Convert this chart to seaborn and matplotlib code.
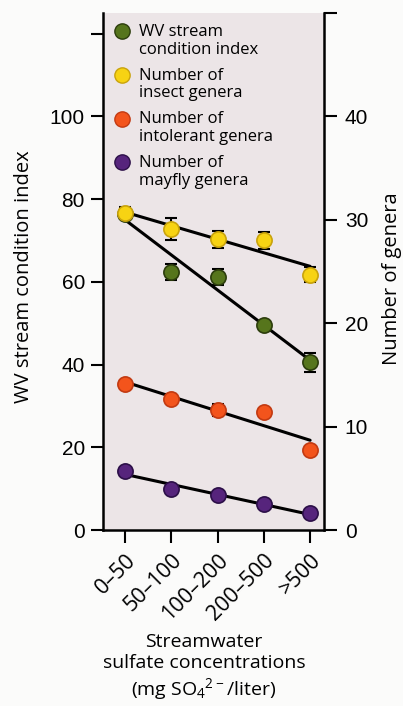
import numpy as np
import pandas as pd
import matplotlib
matplotlib.use("Agg")
import matplotlib.pyplot as plt
import seaborn as sns
from matplotlib.lines import Line2D
from matplotlib.legend_handler import HandlerLine2D

sulfate = ["0–50", "50–100", "100–200", "200–500", ">500"]
wvsci = [76.5, 62.4, 61.2, 49.5, 40.5]
wvsci_err = [1.0, 2.0, 2.0, 0.8, 2.3]
insect = [30.7, 29.1, 28.1, 28.0, 24.7]
insect_err = [0.5, 1.1, 0.8, 0.8, 0.75]
intolerant = [14.1, 12.7, 11.6, 11.4, 7.7]
intolerant_err = [0.3, 0.5, 0.6, 0.3, 0.3]
mayfly = [5.7, 4.0, 3.4, 2.5, 1.6]
mayfly_err = [0.3, 0.3, 0.3, 0.3, 0.3]

sns.set_style("ticks")
plt.rcParams['font.family'] = ['Open Sans', 'DejaVu Sans']
plt.rcParams['mathtext.fontset'] = 'custom'
plt.rcParams['mathtext.rm'] = 'Open Sans'
plt.rcParams['mathtext.default'] = 'regular'
for k in ['text.color', 'axes.labelcolor', 'xtick.color', 'ytick.color', 'axes.edgecolor']:
    plt.rcParams[k] = 'black'

pos = np.arange(len(sulfate))
df = pd.DataFrame({"x": pos, "wvsci": wvsci, "insect": insect,
                   "intolerant": intolerant, "mayfly": mayfly})

colors = {"wvsci": ("#56751c", "#2c3d0c"),
          "insect": ("#f7d313", "#c9a30c"),
          "intolerant": ("#f3541c", "#c23a12"),
          "mayfly": ("#56247c", "#2c0f48")}
errs = {"wvsci": wvsci_err, "insect": insect_err,
        "intolerant": intolerant_err, "mayfly": mayfly_err}

fig = plt.figure(figsize=(4.03, 7.06), dpi=100)
fig.patch.set_facecolor("#fbfbfa")
ax = fig.add_axes([103/403, 176/706, 221/403, 517/706])
ax.set_facecolor("#ece5e7")
ax2 = ax.twinx()
ax2.patch.set_visible(False)

def draw(axis, col):
    fc, ec = colors[col]
    axis.errorbar(df["x"], df[col], yerr=errs[col], fmt="none", ecolor="black",
                  elinewidth=1.5, capsize=4.5, capthick=1.5, zorder=2)
    sns.regplot(data=df, x="x", y=col, ax=axis, scatter=False, ci=None, truncate=True,
                line_kws={"color": "black", "lw": 2.2, "zorder": 3})
    sns.scatterplot(data=df, x="x", y=col, ax=axis, s=120, color=fc,
                    edgecolor=ec, linewidth=1.2, zorder=4)

draw(ax, "wvsci")
for c in ["insect", "intolerant", "mayfly"]:
    draw(ax2, c)

ax.set_xlim(-0.476, 4.30)
ax.set_ylim(0, 125)
ax2.set_ylim(0, 50)
ax.set_xticks(pos)
ax.set_xticklabels(sulfate, rotation=45, ha="right", va="top",
                   rotation_mode="anchor", fontsize=15.5)
ax.set_yticks([0, 20, 40, 60, 80, 100, 120])
ax.set_yticklabels(["0", "20", "40", "60", "80", "100", ""],
                   fontsize=15, family="Liberation Sans")
ax2.set_yticks([0, 10, 20, 30, 40, 50])
ax2.set_yticklabels(["0", "10", "20", "30", "40", ""],
                    fontsize=15, family="Liberation Sans")

for a in (ax, ax2):
    a.spines["top"].set_visible(False)
    a.tick_params(direction="out", length=9, width=1.5, colors="black")
    a.set_xlabel("")
    a.set_ylabel("")
ax.spines["right"].set_visible(False)
ax2.spines["left"].set_visible(False)
ax2.spines["bottom"].set_visible(False)
ax.spines["left"].set_linewidth(1.8)
ax.spines["bottom"].set_linewidth(1.8)
ax2.spines["right"].set_linewidth(1.8)
ax.tick_params(axis="y", pad=4)
ax.tick_params(axis="x", pad=5)
ax2.tick_params(axis="y", pad=6)

ax.set_ylabel("WV stream condition index", fontsize=14.5)
ax.yaxis.set_label_coords(-0.31, 0.49)
ax2.set_ylabel("Number of genera", fontsize=14.5, rotation=90)
ax2.yaxis.set_label_coords(1.262, 0.487)
ax.set_xlabel("Streamwater\nsulfate concentrations\n(mg SO$_4$$^{2-}$/liter)",
              fontsize=14, linespacing=1.2)
ax.xaxis.set_label_coords(0.457, -0.2)
ax.xaxis.label.set_va("top")


# keep the legend marker level with the first line of each label
class FirstLineHandler(HandlerLine2D):
    def create_artists(self, legend, orig_handle, xdescent, ydescent,
                       width, height, fontsize, trans):
        arts = super().create_artists(legend, orig_handle, xdescent, ydescent,
                                      width, height, fontsize, trans)
        for a in arts:
            a.set_ydata(np.asarray(a.get_ydata()) + 0.6 * fontsize)
        return arts


handles = [Line2D([], [], ls="none", marker="o", markersize=11,
                  markerfacecolor=colors[c][0], markeredgecolor=colors[c][1])
           for c in ["wvsci", "insect", "intolerant", "mayfly"]]
labels = ["WV stream\ncondition index", "Number of\ninsect genera",
          "Number of\nintolerant genera", "Number of\nmayfly genera"]
leg = ax2.legend(handles, labels, loc="upper left", bbox_to_anchor=(0.0, 1.0),
                 frameon=False, fontsize=12, handlelength=1.0, handletextpad=0.5,
                 labelspacing=0.6, borderaxespad=0.45, borderpad=0.2,
                 handler_map={Line2D: FirstLineHandler()})
for t in leg.get_texts():
    t.set_linespacing(1.15)

fig.savefig("out.png", dpi=100)
